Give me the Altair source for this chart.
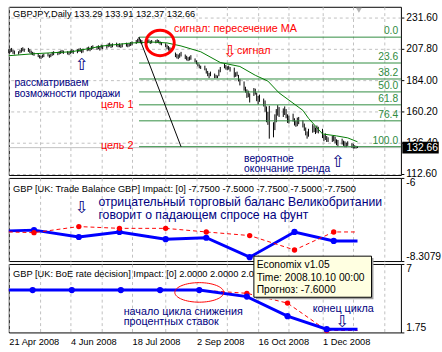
import altair as alt
import pandas as pd

FONT = "Liberation Sans"
NAVY = "#000080"
RED = "#ff0000"
FIBC = "#2e8b3e"
MAC = "#007a00"
GRID = "#c0c0c0"
BLUE = "#0000ff"

# ---------------- price panel data ----------------
bar_first, bar_last = "2008-04-21", "2008-12-26"
bar_high = [
    207.5, 208.0, 208.5, 207.0, 206.5,
    206.0, 207.0, 208.5, 209.0, 208.0,
    208.5, 207.5, 206.5, 205.5, 205.0,
    204.5, 203.0, 202.5, 203.5, 204.0,
    204.5, 203.5, 204.0, 205.5, 206.0,
    205.5, 206.0, 206.5, 207.0, 206.5,
    206.0, 205.5, 206.5, 207.5, 207.0,
    207.5, 208.0, 208.5, 207.5, 208.0,
    209.0, 209.5, 208.5, 210.0, 210.5,
    210.0, 210.5, 209.5, 211.0, 210.5,
    211.0, 212.0, 212.5, 211.5, 212.0,
    212.5, 211.5, 212.0, 211.0, 212.0,
    212.5, 211.5, 212.0, 213.0, 213.5,
    214.5, 215.5, 216.7, 215.0, 214.5,
    214.0, 214.5, 215.0, 214.0, 214.5,
    214.5, 215.0, 214.5, 213.5, 213.0,
    212.0, 211.0, 210.0, 209.0, 208.5,
    205.0, 204.0, 203.5, 204.5, 205.5,
    203.5, 202.5, 201.5, 202.0, 203.0,
    200.5, 199.0, 197.5, 196.0, 195.0,
    195.0, 193.0, 191.0, 189.5, 190.5,
    189.0, 188.0, 187.5, 192.0, 194.0,
    196.5, 195.5, 194.5, 195.0, 194.0,
    193.5, 190.0, 190.5, 188.0, 185.0,
    183.0, 179.0, 177.0, 176.0, 174.0,
    178.0, 177.5, 174.5, 172.0, 173.0,
    170.0, 168.5, 164.0, 160.0, 164.5,
    152.0, 158.0, 162.0, 165.0, 163.5,
    162.5, 164.0, 162.0, 158.0, 157.0,
    158.5, 155.0, 153.0, 155.5, 156.0,
    153.5, 151.0, 148.0, 145.0, 147.0,
    150.5, 149.5, 148.0, 149.5, 148.5,
    147.0, 142.5, 143.5, 141.5, 140.5,
    141.5, 142.0, 141.0, 139.0, 138.5,
    139.5, 138.0, 137.5, 136.5, 137.5,
    136.0, 135.5, 134.5, 134.0, 133.91,
]
bar_low = [
    204.5, 205.0, 205.5, 204.0, 203.5,
    203.5, 204.5, 205.0, 206.0, 205.5,
    205.5, 204.5, 203.5, 203.0, 202.5,
    201.5, 200.5, 200.0, 201.0, 201.5,
    202.0, 201.0, 201.5, 202.5, 203.0,
    203.0, 203.5, 204.0, 204.5, 204.0,
    203.5, 203.0, 204.0, 204.5, 204.0,
    204.5, 205.5, 205.5, 204.5, 205.0,
    206.0, 206.5, 206.0, 207.0, 207.5,
    207.0, 207.5, 206.5, 208.0, 207.5,
    208.0, 209.0, 209.5, 208.5, 209.0,
    209.5, 209.0, 209.0, 208.5, 209.0,
    209.5, 209.0, 209.5, 210.0, 210.5,
    211.5, 212.5, 213.0, 212.0, 211.5,
    211.5, 212.0, 212.5, 211.5, 212.0,
    212.0, 212.5, 212.0, 211.0, 210.5,
    209.0, 207.5, 206.5, 206.0, 205.5,
    201.5, 200.5, 200.0, 201.0, 202.0,
    200.0, 199.0, 198.5, 199.0, 199.5,
    197.5, 196.0, 194.5, 193.0, 192.5,
    191.5, 189.0, 187.0, 185.5, 187.0,
    185.5, 185.5, 185.5, 187.0, 190.0,
    193.0, 192.0, 191.5, 192.0, 190.5,
    186.0, 186.5, 187.0, 183.0, 180.0,
    176.0, 174.5, 170.5, 171.0, 167.0,
    172.0, 173.0, 168.0, 165.5, 167.5,
    164.0, 160.0, 152.0, 150.0, 139.5,
    140.5, 146.0, 152.0, 157.0, 156.0,
    156.0, 157.5, 155.0, 151.5, 151.0,
    152.5, 149.5, 148.5, 149.0, 150.5,
    148.0, 145.5, 142.0, 139.5, 141.0,
    144.0, 144.5, 143.0, 144.0, 143.5,
    140.0, 137.5, 138.5, 137.0, 137.0,
    137.0, 137.5, 136.0, 134.5, 133.5,
    135.0, 134.0, 133.0, 133.0, 134.0,
    132.5, 132.0, 132.0, 132.0, 132.37,
]
ma_dates = ["2008-04-21", "2008-05-09", "2008-06-05", "2008-06-27", "2008-07-18",
            "2008-08-01", "2008-08-12", "2008-08-22", "2008-09-05", "2008-09-19",
            "2008-10-03", "2008-10-14", "2008-10-23", "2008-10-31", "2008-11-17",
            "2008-11-21", "2008-12-01", "2008-12-11", "2008-12-19", "2008-12-26"]
ma_values = [202.6, 204.1, 205.6, 210.0, 212.3, 213.0, 212.3, 210.0, 205.6, 197.4,
             194.4, 187.7, 183.3, 174.3, 161.0, 155.0, 143.1, 141.6, 140.1, 137.1]

fib_levels = [0.0, 23.6, 38.2, 50.0, 61.8, 76.4, 100.0]
fib_high, fib_low = 216.7, 133.4
fib_start = "2008-07-23"
trend_dates = ["2008-07-23", "2008-08-22"]
trend_values = [216.7, 133.4]
last_price = 132.66
price_ticks = [231.60, 207.80, 184.00, 160.20, 136.40, 112.60]
price_domain = [111.86, 239.78]

# ---------------- indicator data ----------------
tb_dates = ["2008-04-21", "2008-05-09", "2008-06-10", "2008-07-09", "2008-08-11",
            "2008-09-09", "2008-10-10", "2008-11-11", "2008-12-09", "2008-12-26"]
tb_actual = [-7.47, -7.45, -7.64, -7.50, -7.70, -7.66, -8.20, -7.50, -7.75, -7.75]
tb_forecast = [-7.50, -7.52, -7.35, -7.40, -7.40, -7.50, -7.60, -8.00, -7.50, -7.50]
tb_release = [False, True, True, True, True, True, True, True, True, False]
tb_domain = [-8.3079, -6.0]

boe_dates = ["2008-04-21", "2008-05-08", "2008-06-05", "2008-07-10", "2008-08-07",
             "2008-09-04", "2008-10-08", "2008-11-06", "2008-12-04", "2008-12-26"]
boe_actual = [5.0, 5.0, 5.0, 5.0, 5.0, 5.0, 4.5, 3.0, 2.0, 2.0]
boe_forecast = [5.0, 5.0, 5.0, 5.0, 5.0, 5.0, 4.75, 4.0, 1.9, 1.9]
boe_release = [False, True, True, True, True, True, True, True, True, False]
boe_domain = [1.75, 7.0]

grid_dates = ["2008-04-21", "2008-05-13", "2008-06-04", "2008-06-26", "2008-07-18",
              "2008-08-11", "2008-09-02", "2008-09-24", "2008-10-16", "2008-11-07",
              "2008-12-01", "2008-12-23", "2009-01-14"]
label_dates = ["2008-04-21", "2008-06-04", "2008-07-18", "2008-09-02", "2008-10-16", "2008-12-01"]

# ---------------- annotations ----------------
hdr1 = "GBPJPY,Daily  133.29 133.91 132.37 132.66"
hdr2 = "GBP [UK: Trade Balance GBP] Impact: [0]  -7.7500 -7.5000 -7.7500 -7.5000 -7.7500"
hdr3 = "GBP [UK: BoE rate decision] Impact: [0]  2.0000 2.0000 2.0000"


def tdate(s):
    t = pd.Timestamp(s)
    return alt.DateTime(year=t.year, month=t.month, date=t.day)


xs = alt.Scale(domain=[tdate("2008-04-21"), tdate("2009-01-26")])
grid_vals = [tdate(s) for s in grid_dates]
lab_strs = [f"{pd.Timestamp(s).day} {pd.Timestamp(s).strftime('%b %Y')}" for s in label_dates]
label_expr = ("indexof([" + ",".join(f"'{s}'" for s in lab_strs) +
              "], timeFormat(datum.value, '%-d %b %Y')) >= 0 ? timeFormat(datum.value, '%-d %b %Y') : ''")

ax_top = alt.Axis(values=grid_vals, grid=True, gridColor=GRID, gridDash=[3, 3], labels=False,
                  ticks=False, domain=False, title=None, zindex=0)
ax_bot = alt.Axis(values=grid_vals, grid=True, gridColor=GRID, gridDash=[3, 3], labelExpr=label_expr,
                  labelAlign="left", labelPadding=4, ticks=False, domain=False, title=None,
                  labelFont=FONT, labelFontSize=9.5, labelColor="black", zindex=0,
                  labelOverlap=False, labelFlush=False)


def make_x(axis):
    def f(field="date"):
        return alt.X(f"{field}:T", scale=xs, axis=axis, title=None)
    return f


def make_y(scale, axis):
    def f(field="v"):
        return alt.Y(f"{field}:Q", scale=scale, axis=axis, title=None)
    return f


X1 = make_x(ax_top)
X2 = make_x(ax_top)
X3 = make_x(ax_bot)

ay1 = alt.Axis(orient="right", values=price_ticks, format=".2f", grid=True, gridColor=GRID,
               gridDash=[3, 3], tickSize=3, domain=False, labelPadding=2, title=None, zindex=0,
               labelFontSize=10.5, labelFlush=False, labelOverlap=False)
ay2 = alt.Axis(orient="right", values=[tb_domain[1], tb_domain[0]],
               labelExpr="datum.value > -7 ? '-6' : '-8.3079'", labelFlush=True, grid=False,
               tickSize=3, domain=False, labelPadding=2, title=None, labelFontSize=10.5,
               labelOverlap=False, zindex=0)
ay3 = alt.Axis(orient="right", values=[boe_domain[1], boe_domain[0]],
               labelExpr="datum.value > 5 ? '7' : '1.75'", labelFlush=True, grid=False,
               tickSize=3, domain=False, labelPadding=2, title=None, labelFontSize=10.5,
               labelOverlap=False, zindex=0)

Y1 = make_y(alt.Scale(domain=price_domain, nice=False, zero=False), ay1)
Y2 = make_y(alt.Scale(domain=tb_domain, nice=False, zero=False), ay2)
Y3 = make_y(alt.Scale(domain=boe_domain, nice=False, zero=False), ay3)


def texts(rows, X, Y, color, size, align="left", baseline="middle", font=FONT, **kw):
    df = pd.DataFrame(rows, columns=["date", "v", "t"])
    df["date"] = pd.to_datetime(df["date"])
    return alt.Chart(df).mark_text(align=align, baseline=baseline, color=color, fontSize=size,
                                   font=font, **kw).encode(x=X(), y=Y(), text="t:N")


# ---------------- panel 1 ----------------
bars_df = pd.DataFrame({"date": pd.bdate_range(bar_first, bar_last), "high": bar_high, "low": bar_low})
ma_df = pd.DataFrame({"date": pd.to_datetime(ma_dates), "v": ma_values})
fib_df = pd.DataFrame({
    "date": pd.to_datetime([fib_start] * len(fib_levels)),
    "end": pd.to_datetime(["2009-01-26"] * len(fib_levels)),
    "lx": pd.to_datetime(["2009-01-24"] * len(fib_levels)),
    "v": [fib_high - (fib_high - fib_low) * l / 100 for l in fib_levels],
    "t": [f"{l:.1f}" for l in fib_levels],
})
trend_df = pd.DataFrame({"date": pd.to_datetime(trend_dates), "v": trend_values})
lp_df = pd.DataFrame({"date": pd.to_datetime(["2008-04-21"]), "end": pd.to_datetime(["2009-01-26"]),
                      "v": [last_price]})
box_df = pd.DataFrame({"date": pd.to_datetime(["2009-01-27"]), "end": pd.to_datetime(["2009-02-22"]),
                       "v": [137.1], "v2": [128.2], "tx": pd.to_datetime(["2009-01-30"]),
                       "p": [last_price], "t": [f"{last_price:.2f}"]})

ell1 = "M -1 0 A 1 0.9 0 1 1 1 0 A 1 0.9 0 1 1 -1 0"
ell2 = "M -1 0 A 1 0.4 0 1 1 1 0 A 1 0.4 0 1 1 -1 0"
circ_df = pd.DataFrame({"date": pd.to_datetime(["2008-08-07"]), "v": [212.3]})
tri_df = pd.DataFrame({"date": pd.to_datetime(["2008-12-27"]), "v": [237.2]})

p1_layers = [
    alt.Chart(lp_df).mark_rule(color="#c0c0c0", strokeWidth=1).encode(x=X1(), x2="end:T", y=Y1()),
    alt.Chart(bars_df).mark_rule(color="black", strokeWidth=1).encode(x=X1(), y=Y1("low"), y2="high:Q"),
    alt.Chart(fib_df).mark_rule(color=FIBC, strokeWidth=1).encode(x=X1(), x2="end:T", y=Y1()),
    alt.Chart(fib_df).mark_text(align="right", baseline="bottom", dy=-1, color=FIBC, fontSize=10.5,
                                font=FONT).encode(x=X1("lx"), y=Y1(), text="t:N"),
    alt.Chart(ma_df).mark_line(color=MAC, strokeWidth=1).encode(x=X1(), y=Y1()),
    alt.Chart(trend_df).mark_line(color="black", strokeWidth=1).encode(x=X1(), y=Y1()),
    alt.Chart(circ_df).mark_point(shape=ell1, size=841, filled=False, color=RED, strokeWidth=3,
                                  opacity=1).encode(x=X1(), y=Y1()),
    alt.Chart(tri_df).mark_point(shape="triangle-down", size=36, filled=True, color="#b4b4b4",
                                 opacity=1).encode(x=X1(), y=Y1()),
    texts([("2008-04-24", 233.9, hdr1)], X1, Y1, "black", 9.5),
    texts([("2008-08-17", 222.7, "сигнал: пересечение МА"), ("2008-10-01", 206.3, "сигнал")],
          X1, Y1, RED, 11),
    texts([("2008-09-26", 205.4, "⇩")], X1, Y1, RED, 17, align="center", font="DejaVu Sans"),
    texts([("2008-07-19", 165.4, "цель 1"), ("2008-07-19", 133.5, "цель 2")], X1, Y1, RED, 11,
          align="right"),
    texts([("2008-04-25", 181.8, "рассматриваем"), ("2008-04-25", 173.6, "возможности продажи"),
           ("2008-10-06", 123.8, "вероятное"), ("2008-10-06", 116.4, "окончание тренда")],
          X1, Y1, NAVY, 10.5),
    texts([("2008-06-12", 195.2, "⇧"), ("2008-12-12", 121.6, "⇧")], X1, Y1, NAVY, 17,
          align="center", font="DejaVu Sans"),
    alt.Chart(box_df).mark_rect(color="black").encode(x=X1(), x2="end:T", y=Y1(), y2="v2:Q"),
    alt.Chart(box_df).mark_text(align="left", baseline="middle", color="white", fontSize=10.5,
                                font=FONT).encode(x=X1("tx"), y=Y1("p"), text="t:N"),
]
p1 = alt.layer(*p1_layers).properties(width=401, height=172)

# ---------------- panel 2 ----------------
tb_df = pd.DataFrame({"date": pd.to_datetime(tb_dates), "actual": tb_actual,
                      "forecast": tb_forecast, "release": tb_release})
p2_layers = [
    texts([("2008-04-24", -6.30, hdr2)], X2, Y2, "black", 9.5),
    texts([("2008-06-24", -6.68, "отрицательный торговый баланс Великобритании"),
           ("2008-06-24", -7.03, "говорит о падающем спросе на фунт")], X2, Y2, NAVY, 12.5),
    texts([("2008-06-12", -6.84, "⇩")], X2, Y2, NAVY, 17, align="center", font="DejaVu Sans"),
    alt.Chart(tb_df).mark_line(color=BLUE, strokeWidth=3).encode(x=X2(), y=Y2("actual")),
    alt.Chart(tb_df).transform_filter("datum.release").mark_circle(color=BLUE, size=40, opacity=1)
    .encode(x=X2(), y=Y2("actual")),
    alt.Chart(tb_df).mark_line(color=RED, strokeWidth=1, strokeDash=[4, 3]).encode(x=X2(), y=Y2("forecast")),
    alt.Chart(tb_df).transform_filter("datum.release").mark_circle(color=RED, size=30, opacity=1)
    .encode(x=X2(), y=Y2("forecast")),
]
p2 = alt.layer(*p2_layers).properties(width=401, height=85)

# ---------------- panel 3 ----------------
boe_df = pd.DataFrame({"date": pd.to_datetime(boe_dates), "actual": boe_actual,
                       "forecast": boe_forecast, "release": boe_release})
ell_df = pd.DataFrame({"date": pd.to_datetime(["2008-09-04"]), "v": [4.82]})
tip_df = pd.DataFrame({"date": pd.to_datetime(["2008-10-13"]), "end": pd.to_datetime(["2009-01-05"]),
                       "v": [7.6], "v2": [4.45]})
p3_layers = [
    texts([("2008-04-24", 6.25, hdr3)], X3, Y3, "black", 9.5),
    alt.Chart(boe_df).mark_line(color=RED, strokeWidth=1, strokeDash=[4, 3]).encode(x=X3(), y=Y3("forecast")),
    alt.Chart(boe_df).transform_filter("datum.release").mark_circle(color=RED, size=30, opacity=1)
    .encode(x=X3(), y=Y3("forecast")),
    alt.Chart(boe_df).mark_line(color=BLUE, strokeWidth=3).encode(x=X3(), y=Y3("actual")),
    alt.Chart(boe_df).transform_filter("datum.release").mark_circle(color=BLUE, size=40, opacity=1)
    .encode(x=X3(), y=Y3("actual")),
    alt.Chart(ell_df).mark_point(shape=ell2, size=2500, filled=False, color=RED, strokeWidth=1,
                                 opacity=1).encode(x=X3(), y=Y3()),
    texts([("2008-07-12", 3.32, "начало цикла снижения"), ("2008-07-12", 2.57, "процентных ставок"),
           ("2008-11-24", 3.55, "конец цикла")], X3, Y3, NAVY, 11),
    texts([("2008-12-15", 2.57, "⇩")], X3, Y3, NAVY, 17, align="center", font="DejaVu Sans"),
    alt.Chart(tip_df).mark_rect(color="#a0a0a0", xOffset=2, x2Offset=2, yOffset=2, y2Offset=2)
    .encode(x=X3(), x2="end:T", y=Y3(), y2="v2:Q"),
    alt.Chart(tip_df).mark_rect(fill="#ffffe1", stroke="black", strokeWidth=1)
    .encode(x=X3(), x2="end:T", y=Y3(), y2="v2:Q"),
    texts([("2008-10-15", 6.92, "Economix v1.05"), ("2008-10-15", 5.95, "Time: 2008.10.10 00:00"),
           ("2008-10-15", 4.97, "Прогноз: -7.6000")], X3, Y3, "black", 10.5),
]
p3 = alt.layer(*p3_layers).properties(width=401, height=70)

chart = (
    alt.vconcat(p1, p2, p3, spacing=3, bounds="flush")
    .properties(padding={"left": 2, "top": 2, "right": 0, "bottom": 0}, background="white")
    .configure_view(stroke="black", strokeWidth=1)
    .configure_axis(labelFont=FONT, labelColor="black", tickColor="black")
)
chart.save("out.html", embed_options={"renderer": "svg", "actions": False})
